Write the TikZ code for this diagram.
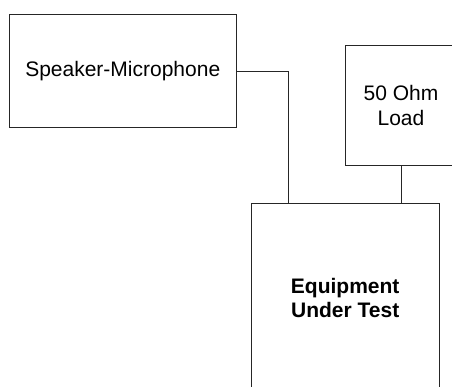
\documentclass[tikz,border=0pt]{standalone}
\usepackage{fontspec}
\setmainfont{Liberation Sans}
\begin{document}
\begin{tikzpicture}[x=1pt,y=-1pt,
  box/.style={draw=black!85,line width=0.9pt,rectangle,inner sep=0pt,align=center,font=\fontsize{21}{25}\selectfont},
  wire/.style={draw=black!85,line width=0.9pt}]
\useasboundingbox (0,0) rectangle (452,387);
\clip (0,0) rectangle (452,387);
\node[box,minimum width=226.5pt,minimum height=113pt] (spk) at (122.75,71.2) {Speaker-Microphone};
\node[box,minimum width=112pt,minimum height=120pt] (load) at (401,105.3) {50 Ohm\\Load};
\node[box,minimum width=188.3pt,minimum height=190pt,font=\fontsize{21}{24}\selectfont\bfseries] (eut) at (345.2,298.3) {Equipment\\Under Test};
\coordinate (j) at (288.5,0);
\draw[wire] (spk.east) -| (eut.north -| j);
\draw[wire] (load.south) -- (load.south |- eut.north);
\end{tikzpicture}
\end{document}
